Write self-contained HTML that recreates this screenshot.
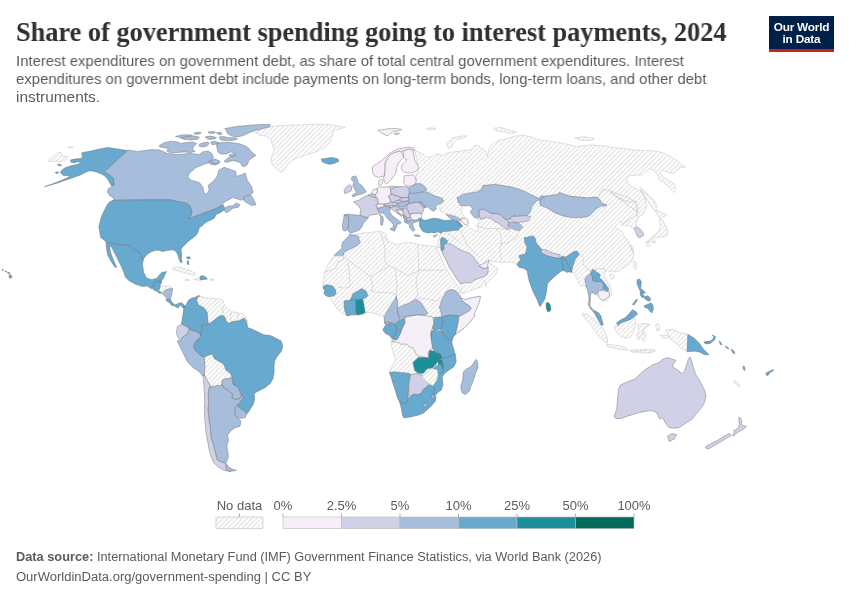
<!DOCTYPE html>
<html><head><meta charset="utf-8">
<style>
html,body{margin:0;padding:0;background:#fff;}
body{width:850px;height:600px;position:relative;overflow:hidden;font-family:"Liberation Sans",sans-serif;}
.t{position:absolute;white-space:nowrap;will-change:transform;}
#title{left:16px;top:16.5px;font-family:"Liberation Serif",serif;font-weight:bold;font-size:27px;color:#303030;transform-origin:0 0;transform:scaleX(0.975);}
.sub{left:16px;font-size:15px;color:#5b5b5b;transform-origin:0 0;}
#logo{position:absolute;left:769px;top:16px;width:65px;height:33px;background:#002147;border-bottom:3px solid #c8231d;color:#fff;font-weight:bold;font-size:11.8px;line-height:12px;text-align:center;}
#logo div{padding-top:5px;letter-spacing:-0.2px}
#logo{will-change:transform}
.lg{font-size:12.5px;color:#5b5b5b;}
.ft{left:16px;font-size:12.5px;color:#5b5b5b;transform-origin:0 0;}
svg{position:absolute;left:0;top:0;will-change:transform;}
#map path{stroke:#6e6e6e;stroke-width:0.45;stroke-linejoin:round}
#map .nd{fill:url(#hatch);stroke:#c6c6c6;stroke-width:0.55}
#map .bd{fill:none;stroke:#cacaca;stroke-width:0.65}
.c1{fill:#f6eff7}.c2{fill:#d0d1e6}.c3{fill:#a6bddb}.c4{fill:#67a9cf}.c5{fill:#1c9099}.c6{fill:#016c59}
</style></head><body>
<div class="t" id="title">Share of government spending going to interest payments, 2024</div>
<div class="t sub" style="top:52px;transform:scaleX(0.9914)">Interest expenditures on government debt, as share of total central government expenditures. Interest</div>
<div class="t sub" style="top:70px;transform:scaleX(0.9939)">expenditures on government debt include payments on long-term bonds, long-term loans, and other debt</div>
<div class="t sub" style="top:88px;transform:scaleX(1.029)">instruments.</div>
<div id="logo"><div>Our World<br>in Data</div></div>

<svg width="850" height="600" viewBox="0 0 850 600">
<defs>
<pattern id="hatch" patternUnits="userSpaceOnUse" width="3.4" height="3.4" patternTransform="rotate(45)"><rect width="3.4" height="3.4" fill="#fff"/><rect x="0" y="0" width="1.25" height="3.4" fill="#e4e4e4"/></pattern>
</defs>
<!--MAP-->
<g id="map">
<path class="nd" d="M67.8,147.4 70.4,146.6 73.1,147.2 70.4,148.0Z"/>
<path class="nd" d="M47.6,161.2 56.5,153.2 60.9,152.4 62.6,155.9 67.9,156.8 67.1,159.4 60.0,162.1 52.9,161.2Z"/>
<path class="nd" d="M159.9,287.4 161.8,286.0 166.1,286.0 170.8,286.5 172.6,288.4 170.8,288.8 167.0,289.3 164.2,291.2 162.3,293.1 159.9,291.6 159.0,289.8Z"/>
<path class="nd" d="M172.1,268.2 178.2,267.0 185.3,268.8 190.6,270.9 195.9,273.5 194.1,275.3 188.8,274.1 183.5,272.6 178.2,270.9 173.8,270.0Z"/>
<path class="nd" d="M193.8,279.4 197.1,278.9 199.9,278.7 200.4,281.1 199.0,280.4 196.2,279.9Z"/>
<path class="nd" d="M184.9,279.4 187.2,279.1 189.6,280.2 187.7,280.8 185.4,280.4Z"/>
<path class="nd" d="M210.3,279.1 213.6,279.1 214.1,280.2 210.8,280.4Z"/>
<path class="nd" d="M196.5,300.3 198.2,295.9 205.3,297.6 212.4,298.5 219.4,298.9 222.9,300.3 224.7,305.6 228.2,309.1 231.8,311.8 237.1,312.6 242.4,313.5 245.9,317.1 247.6,320.6 247.6,327.6 245.9,320.6 244.1,317.9 239.7,320.6 233.5,321.5 228.2,323.2 226.5,321.5 224.7,317.1 222.9,315.3 219.4,316.2 215.9,318.8 212.4,321.5 208.5,324.1 207.9,321.5 207.1,312.6 204.4,308.2 198.2,304.7Z"/>
<path class="nd" d="M204.4,356.8 208.8,355.0 212.4,354.1 213.0,355.0 214.1,358.2 218.4,361.0 223.3,363.7 224.9,366.9 226.0,370.2 229.2,372.3 231.4,375.0 232.0,377.8 229.2,378.3 224.9,378.8 222.2,380.5 221.7,384.2 220.6,385.9 217.9,385.3 214.1,386.4 210.8,387.0 204.3,374.5 204.9,365.8 204.3,357.2 204.9,355.0Z"/>
<path class="nd" d="M255.0,132.6 262.9,128.2 275.3,125.9 289.4,125.2 303.5,124.7 317.6,124.2 331.8,124.7 345.0,127.4 338.8,129.1 333.5,130.9 331.8,137.9 328.2,144.1 322.9,148.5 315.9,152.1 307.1,154.7 298.2,157.4 292.9,160.0 287.6,164.4 284.1,169.7 281.5,172.4 277.9,170.6 273.5,166.2 270.9,160.9 271.8,155.6 274.4,150.3 272.6,145.0 270.9,139.7 266.5,136.2 259.4,135.3Z"/>
<path class="nd" d="M351.2,236.5 355.6,234.7 364.4,232.9 373.2,232.1 380.3,231.2 385.6,233.8 387.4,239.1 390.9,242.6 397.9,244.4 405.0,242.6 411.2,242.6 417.4,244.4 424.4,245.3 431.5,246.2 438.5,247.1 441.2,247.6 436.0,248.0 439.0,253.0 442.0,260.0 446.0,268.0 449.0,273.0 452.0,278.0 455.0,282.0 458.0,286.0 460.0,290.0 460.5,294.0 461.1,295.8 460.1,297.2 462.0,299.5 465.8,299.5 472.4,297.6 480.4,296.2 479.9,299.5 478.5,304.2 476.6,308.9 474.2,313.6 474.7,315.9 469.4,322.9 464.1,328.2 458.8,331.8 455.3,334.4 452.6,337.9 451.8,342.4 452.6,345.9 455.3,354.7 456.2,361.8 453.5,367.1 448.2,370.6 443.8,374.1 442.1,377.6 442.9,384.7 441.2,390.0 437.6,392.6 436.5,394.1 435.9,397.1 435.3,401.2 431.8,405.3 428.2,408.8 423.5,412.9 417.6,415.3 411.8,416.5 407.1,417.6 403.5,417.6 402.4,414.7 401.8,410.0 400.6,405.3 399.4,401.2 397.6,398.2 395.3,390.0 392.9,382.9 391.2,377.1 389.4,372.4 391.8,367.1 395.3,360.0 393.5,352.9 391.8,347.6 390.9,342.4 391.8,340.6 389.1,335.3 385.6,333.5 382.9,330.0 384.7,326.5 385.6,325.1 384.7,320.3 383.8,316.8 378.5,315.0 371.5,312.4 364.4,313.2 357.4,315.0 350.3,315.9 343.2,314.1 337.9,309.7 334.4,304.4 330.9,299.1 327.4,295.6 324.7,291.2 322.9,285.0 323.8,277.9 324.7,271.8 327.4,265.6 330.9,260.3 334.4,255.0 341.5,251.5 343.2,244.4 346.8,240.9Z"/>
<path class="nd" d="M440.9,233.2 439.1,237.6 438.2,242.9 437.4,245.1 440.9,248.2 443.5,255.3 447.1,260.6 450.6,267.6 454.1,274.7 457.6,280.0 460.1,283.5 461.1,286.4 461.5,291.1 462.5,293.9 465.8,292.5 471.4,290.1 477.1,288.2 482.7,286.4 486.5,283.5 488.4,281.2 492.1,277.9 495.9,274.1 497.8,269.4 496.7,267.9 492.9,265.1 490.1,263.2 489.2,262.3 488.7,259.9 491.1,261.4 497.6,261.8 504.2,262.3 510.8,262.3 514.6,263.2 517.4,265.1 537.6,272.5 551.8,269.7 561.7,265.4 570.6,269.5 572.5,272.3 575.4,276.1 578.2,280.8 579.1,284.5 581.0,286.4 583.8,285.5 586.6,287.4 588.5,290.2 589.5,293.9 589.9,300.0 589.1,301.2 588.9,305.5 591.2,308.2 594.0,310.9 595.0,314.2 596.7,317.4 598.8,320.7 601.0,325.0 603.2,325.0 602.1,320.7 601.0,316.3 598.8,313.1 596.1,311.5 592.3,308.8 590.7,305.5 590.2,301.2 590.2,295.8 591.2,292.5 595.6,294.7 597.8,295.2 599.4,297.9 602.1,300.1 605.7,301.3 607.0,300.3 609.0,298.7 610.7,296.7 611.7,294.0 611.7,291.3 611.0,288.7 610.0,286.0 608.7,283.3 607.0,280.7 605.0,278.0 603.7,275.3 604.3,273.7 605.7,272.0 605.0,270.3 603.0,268.3 606.7,270.7 610.0,271.3 613.3,272.0 616.7,271.3 620.0,270.7 621.5,268.5 626.2,266.6 630.9,262.9 632.8,259.1 633.7,254.4 632.8,250.6 630.9,246.9 629.9,245.0 632.6,252.9 633.7,252.0 633.0,248.7 631.0,244.7 628.3,240.7 625.0,237.3 623.0,234.7 622.3,232.0 618.3,229.3 615.0,226.3 618.3,223.3 620.3,221.3 621.7,224.7 625.0,226.0 628.3,225.0 630.3,226.3 633.0,228.0 634.3,228.7 636.3,227.2 636.7,224.7 636.3,222.0 637.7,219.3 639.7,216.0 641.0,213.3 641.7,212.0 636.4,204.1 633.5,201.8 628.8,202.2 624.1,200.4 619.4,198.0 614.7,194.7 610.0,191.9 637.9,212.1 635.3,201.5 628.2,197.9 619.4,194.4 610.6,190.9 603.5,189.1 600.0,192.6 598.2,197.9 587.6,197.9 578.8,197.1 570.0,196.2 564.7,194.4 559.4,192.6 557.6,194.4 545.3,196.2 540.0,199.7 544.7,197.9 520.0,206.3 496.5,210.1 477.6,218.1 478.6,221.4 477.6,226.1 478.6,230.8 475.8,231.2 471.1,228.9 468.2,226.1 468.2,223.2 467.3,221.4 464.5,219.9 461.6,219.7 458.8,221.4 454.1,226.1 449.7,225.3 441.8,227.1Z"/>
<path class="nd" d="M414.1,150.3 421.2,152.9 428.2,157.4 433.5,155.6 437.9,153.8 442.4,155.6 447.6,152.9 452.9,152.1 460.0,151.2 465.3,150.3 472.4,149.4 474.1,145.9 477.6,145.0 481.2,147.6 484.7,150.3 487.4,156.5 488.2,152.1 490.0,146.8 493.5,143.2 498.8,140.6 505.9,138.8 514.7,136.2 523.5,135.3 532.4,137.1 537.6,139.7 544.7,140.6 557.6,142.4 566.5,144.1 577.1,146.8 585.9,145.4 592.9,145.0 603.5,145.9 614.1,147.6 624.7,148.5 635.3,150.3 645.9,150.3 656.5,151.2 663.5,152.9 670.6,156.5 677.6,160.9 681.2,164.4 685.6,167.1 679.4,167.9 675.9,171.5 674.1,173.2 670.6,173.2 665.3,171.5 661.8,169.7 660.0,173.2 663.5,176.8 668.8,180.3 674.1,183.8 675.9,189.1 674.1,192.6 670.6,189.1 667.1,185.6 663.5,182.1 660.0,180.3 656.5,173.2 652.9,169.7 649.4,168.8 645.9,171.5 642.4,175.0 637.1,175.0 628.2,175.9 626.5,180.3 630.0,185.6 637.1,189.1 642.4,192.6 645.9,197.9 649.4,203.2 652.9,208.5 656.5,212.1 640.1,190.0 642.0,192.8 644.8,197.5 646.2,202.2 646.7,206.9 644.8,210.7 642.9,214.5 639.2,216.4 637.8,217.3 636.8,214.5 637.3,210.7 636.4,207.9 636.4,204.1 635.9,201.3 633.5,201.8 628.8,202.2 624.1,200.4 619.4,198.0 614.7,194.7 610.0,191.9 637.9,212.1 637.1,206.8 635.3,201.5 628.2,197.9 619.4,194.4 610.6,190.9 603.5,189.1 600.0,192.6 598.2,197.9 596.5,197.1 587.6,197.9 578.8,197.1 570.0,196.2 564.7,194.4 559.4,192.6 557.6,194.4 545.3,196.2 540.0,199.7 544.7,196.2 541.2,195.3 539.4,197.9 534.1,196.2 527.1,192.6 520.0,189.1 512.9,187.4 509.4,186.5 502.4,185.6 497.1,183.8 491.8,184.7 482.9,185.6 481.2,189.1 475.9,190.9 470.6,192.6 463.5,193.5 458.2,196.2 457.4,196.9 457.9,201.6 460.7,205.4 462.6,208.2 461.6,211.9 463.1,214.8 464.5,216.6 463.5,218.1 461.6,218.5 458.8,217.1 455.1,215.7 450.4,214.3 446.6,214.3 443.8,212.7 440.9,211.2 440.0,210.5 439.7,206.4 443.8,201.5 442.4,197.9 435.3,196.2 430.9,192.6 426.5,190.9 425.6,187.4 421.2,183.8 415.9,183.8 416.8,180.3 415.9,176.8 417.6,171.5 417.6,164.4 415.9,155.6Z"/>
<path class="nd" d="M639.8,187.2 641.9,188.3 646.3,192.6 651.7,198.0 654.9,201.3 657.1,206.7 656.0,207.8 653.3,202.3 650.0,198.0 646.3,194.8 641.9,190.4Z"/>
<path class="nd" d="M446.8,143.2 452.9,137.9 460.0,136.2 467.1,135.8 463.5,137.9 456.5,139.7 452.9,143.2 451.2,147.6 448.5,148.5Z"/>
<path class="nd" d="M493.5,128.2 500.6,127.4 509.4,130.0 516.5,131.8 512.9,133.5 504.1,131.8 496.2,130.9Z"/>
<path class="nd" d="M656.0,209.4 658.7,211.0 662.5,213.2 665.8,213.7 666.8,214.8 663.6,217.0 660.3,217.5 658.2,216.4 656.5,213.2Z"/>
<path class="nd" d="M659.3,218.6 662.5,219.7 664.7,224.0 666.8,228.3 667.9,232.7 666.8,235.9 662.5,237.0 658.2,237.0 653.8,238.6 650.6,240.3 647.3,242.4 648.4,240.3 651.7,237.0 654.9,234.8 658.2,231.6 660.3,227.3 659.8,222.9Z"/>
<path class="nd" d="M646.3,241.3 649.0,241.9 650.0,245.7 647.9,246.8 646.3,244.6Z"/>
<path class="nd" d="M651.7,241.3 654.9,240.8 656.0,242.4 652.8,243.0Z"/>
<path class="nd" d="M633.7,261.9 635.6,261.5 637.0,265.7 635.6,269.5 634.2,268.5 633.5,265.2Z"/>
<path class="nd" d="M609.7,275.1 613.0,274.2 614.4,277.0 612.1,279.4 610.2,278.4Z"/>
<path class="nd" d="M614.7,325.6 618.2,325.6 620.9,322.9 625.3,321.2 630.6,319.4 634.1,316.8 635.9,320.3 635.0,327.4 633.2,332.6 630.6,337.1 625.3,337.9 620.0,336.2 616.5,332.6 614.7,329.1Z"/>
<path class="nd" d="M582.1,313.2 588.2,315.0 595.3,320.3 602.4,327.4 606.8,336.2 607.6,343.2 604.1,341.5 598.8,336.2 593.5,329.1 588.2,322.1 583.8,316.8Z"/>
<path class="nd" d="M606.8,344.1 612.9,345.0 620.0,345.9 627.1,348.5 627.9,350.3 620.0,349.4 612.9,347.6 607.6,346.8Z"/>
<path class="nd" d="M639.4,324.7 644.7,323.8 650.0,324.7 644.7,327.4 642.9,330.9 646.5,334.4 643.8,337.9 641.2,334.4 639.4,329.1Z"/>
<path class="nd" d="M665.9,330.0 672.9,329.1 680.0,332.6 687.9,334.4 687.1,351.2 681.8,349.4 678.2,345.0 672.9,341.5 669.4,337.9 667.6,333.5Z"/>
<path class="nd" d="M630.6,350.3 637.6,349.9 644.7,349.4 651.8,350.3 655.3,349.9 651.8,352.9 644.7,352.4 637.6,352.1 631.5,352.1Z"/>
<path class="nd" d="M637.5,325.0 642.0,323.5 649.5,324.4 645.0,328.0 642.0,332.5 646.5,338.5 643.5,341.5 640.5,335.5 638.4,340.0 636.6,335.5 639.0,329.5Z"/>
<path class="nd" d="M630.0,350.5 634.5,349.6 639.0,350.8 634.5,352.0Z"/>
<path class="nd" d="M640.5,351.4 646.5,349.9 652.5,349.6 655.5,350.8 648.0,352.6 642.0,353.2Z"/>
<path class="nd" d="M655.5,325.0 658.5,323.5 660.0,329.5 657.0,331.0Z"/>
<path class="nd" d="M660.0,335.5 666.0,334.9 670.5,337.0 664.5,338.5Z"/>
<path class="nd" d="M426.5,128.2 431.2,127.8 435.9,128.4 434.9,129.5 430.2,129.7 426.9,129.1Z"/>
<path class="nd" d="M734.1,380.6 736.8,382.0 740.3,386.2 738.2,386.2 734.5,382.7Z"/>
<path class="nd" d="M574.8,137.8 584.7,136.8 594.6,138.4 591.3,140.4 581.4,140.4Z"/>
<path class="c4" d="M82.9,152.4 90.9,151.1 100.6,148.8 107.6,147.4 112.9,148.3 127.9,150.6 104.1,172.3 109.4,174.4 113.3,177.9 114.4,185.0 112.1,186.4 110.3,184.1 108.5,180.6 105.9,177.1 102.4,174.4 97.1,172.3 93.5,171.2 90.0,170.7 84.7,172.8 80.5,174.9 76.2,176.5 72.0,178.1 66.7,179.7 59.3,182.4 50.8,185.0 44.5,186.6 50.8,184.5 59.3,181.3 65.6,178.6 69.9,176.5 67.8,175.5 63.5,175.5 61.4,173.9 60.4,171.8 62.5,169.6 65.6,167.5 72.0,165.4 77.3,164.4 80.5,162.8 78.4,161.7 74.1,162.8 70.9,162.2 70.4,160.1 74.1,159.1 80.5,158.5 82.6,156.9 81.5,153.2Z"/>
<path class="c4" d="M57.2,164.4 59.8,164.1 61.6,165.4 59.3,165.9Z"/>
<path class="c4" d="M55.1,172.3 57.7,171.8 58.8,173.0 56.1,173.5Z"/>
<path class="c3" d="M127.9,150.0 137.6,151.4 151.8,149.6 159.7,150.0 167.6,153.5 178.2,154.4 190.6,153.5 199.4,154.4 202.9,151.8 208.2,150.9 211.8,153.5 213.5,157.9 210.0,162.4 204.7,164.1 195.9,167.6 189.7,172.9 187.9,176.5 190.6,180.0 199.4,182.6 202.9,187.1 203.8,192.4 206.5,194.1 209.1,190.6 208.2,185.3 213.5,180.9 217.1,176.5 218.8,170.3 224.1,167.3 230.3,169.4 235.6,171.2 236.5,176.5 241.8,174.7 245.3,172.9 247.1,180.0 251.5,186.2 253.2,192.4 247.1,197.6 241.8,200.3 232.9,197.6 225.9,201.2 221.5,204.7 220.6,205.6 217.1,208.2 210.0,210.9 202.9,213.5 195.9,216.2 188.8,218.8 190.6,216.2 192.0,211.8 189.7,205.6 185.3,202.9 178.2,201.7 171.2,199.9 142.9,199.9 112.9,200.3 114.7,200.0 112.9,197.7 109.4,195.2 107.3,192.1 108.5,188.5 112.1,186.4 114.4,185.0 113.3,177.9 109.4,174.4 104.1,172.3Z"/>
<path class="c3" d="M223.2,209.1 227.6,206.5 232.9,205.6 236.5,202.9 240.0,204.7 238.2,207.4 232.9,208.2 228.5,211.8 225.9,212.6Z"/>
<path class="c3" d="M243.5,197.6 248.8,195.0 251.5,195.9 254.1,200.3 255.9,204.7 251.5,205.6 247.1,202.9 244.4,201.2Z"/>
<path class="c3" d="M208.2,161.5 215.3,159.7 218.8,163.2 215.3,165.0 210.0,164.1Z"/>
<path class="c4" d="M112.9,200.3 142.9,199.9 171.2,199.9 178.2,201.7 185.3,202.9 189.7,205.6 192.0,211.8 190.6,216.2 188.8,218.8 195.9,216.2 202.9,213.5 210.0,210.9 217.1,208.2 220.6,205.6 223.2,204.7 224.5,207.4 224.1,210.0 220.6,212.6 216.2,214.4 214.4,217.9 211.8,219.7 207.4,221.5 204.7,223.2 202.1,225.9 199.4,227.6 198.5,230.3 197.6,232.9 195.9,235.6 192.4,238.2 188.8,240.9 185.3,244.4 182.6,247.1 180.9,249.7 181.8,254.1 181.4,258.5 182.1,262.1 180.9,262.9 179.1,259.4 177.9,255.0 176.1,251.5 172.9,249.7 167.6,250.6 162.4,251.5 158.8,250.2 154.4,250.6 150.0,252.4 146.5,255.0 143.8,258.5 142.9,261.2 141.2,256.8 138.5,253.2 136.8,251.5 134.1,249.7 131.5,246.5 125.3,244.8 116.5,244.4 106.2,242.3 104.1,240.0 100.6,237.4 99.7,232.1 98.8,226.8 100.2,221.5 101.5,216.2 104.1,210.9 106.8,205.6 109.4,202.1Z"/>
<path class="c4" d="M106.2,242.3 116.5,244.4 125.3,244.8 131.5,246.5 134.1,249.7 138.5,251.5 141.2,255.9 142.9,260.6 142.6,265.6 143.8,272.6 146.5,277.9 151.8,279.7 157.1,277.9 159.7,274.4 162.4,272.1 166.8,271.8 166.1,271.4 165.1,274.7 163.2,278.5 161.8,280.4 161.4,280.4 159.9,281.1 158.1,281.3 155.2,282.2 153.8,284.6 152.4,287.9 151.5,288.8 147.2,286.0 142.5,286.5 135.0,284.1 128.8,280.6 125.3,277.1 123.9,272.6 121.8,267.4 119.1,262.1 116.5,256.8 113.8,251.5 112.1,247.9 110.8,246.2 109.8,246.5 110.3,251.5 112.1,256.8 114.7,262.9 116.8,267.4 114.7,267.0 112.1,262.9 109.4,258.5 107.6,255.0 106.8,249.7 106.2,246.2Z"/>
<path class="c4" d="M152.4,287.9 153.8,284.6 155.2,282.2 158.1,281.3 159.9,281.1 160.4,284.1 159.9,287.4 159.0,289.8 158.1,291.2 155.2,290.7 153.4,289.8Z"/>
<path class="c4" d="M159.9,281.1 161.4,280.4 161.8,281.8 160.9,284.1 160.4,284.1Z"/>
<path class="c4" d="M157.1,291.2 159.9,291.6 161.8,293.1 160.4,293.5 158.1,292.6Z"/>
<path class="c3" d="M162.3,293.5 164.2,291.2 167.0,289.3 170.8,288.8 172.6,288.4 172.2,292.6 171.2,296.4 170.3,299.2 167.5,299.2 165.1,296.4Z"/>
<path class="c4" d="M166.1,299.2 170.3,299.2 172.2,302.5 173.6,304.8 172.6,306.2 170.8,304.4 168.4,302.0 166.5,301.1Z"/>
<path class="c4" d="M172.6,303.4 175.5,304.8 179.2,302.9 182.1,302.9 184.9,305.8 183.9,308.1 182.5,307.6 181.1,305.3 179.2,305.8 178.3,308.1 176.4,307.2 174.1,305.8Z"/>
<path class="c4" d="M199.9,276.6 202.8,275.6 205.6,277.1 207.5,278.9 204.6,279.4 200.9,279.9 199.9,278.9Z"/>
<path class="c4" d="M186.2,257.1 189.7,256.8 190.6,258.5 187.9,258.9Z"/>
<path class="c4" d="M187.1,261.2 188.5,260.6 188.8,264.7 187.4,264.2Z"/>
<path class="c4" d="M183.9,308.1 185.8,305.3 188.6,300.1 191.5,298.2 195.2,297.3 199.0,295.4 199.9,296.4 198.2,295.9 196.5,300.3 198.2,304.7 204.4,308.2 207.1,312.6 207.9,321.5 208.5,324.1 205.3,325.0 202.6,324.1 201.8,328.5 200.9,336.5 199.1,332.9 194.7,331.2 189.4,329.4 186.8,326.8 181.5,324.1 182.4,317.9 183.2,312.6 184.1,305.9Z"/>
<path class="c2" d="M177.1,326.8 181.5,324.1 186.8,326.8 189.4,329.9 186.8,334.7 182.4,337.4 180.6,340.0 177.9,337.4 176.2,332.9 177.1,329.4Z"/>
<path class="c3" d="M180.6,340.0 182.4,337.4 186.8,334.7 189.4,329.9 194.7,331.2 199.1,332.9 200.9,336.5 198.2,339.1 195.6,341.8 193.8,346.2 194.7,349.7 198.2,353.2 200.9,355.9 204.4,356.8 204.9,355.0 204.3,357.2 204.9,365.8 204.3,374.5 203.2,376.1 198.2,370.9 192.9,367.4 187.6,362.1 184.1,355.0 180.6,347.9 177.1,340.9Z"/>
<path class="c4" d="M208.5,324.1 212.4,321.5 215.9,318.8 219.4,316.2 222.9,315.3 224.7,317.1 226.5,321.5 228.2,323.2 233.5,321.5 239.7,320.6 244.1,317.9 245.9,320.6 247.6,327.6 252.9,329.4 258.2,332.1 263.5,334.7 270.6,335.6 275.9,338.2 281.2,340.9 282.9,346.2 281.2,351.5 277.6,355.9 275.0,360.3 274.1,365.6 274.1,372.6 273.2,377.9 270.6,383.2 265.3,387.6 260.0,390.3 254.7,392.9 254.2,395.1 254.7,398.3 253.6,403.8 250.9,408.1 248.2,412.4 246.6,414.0 244.4,411.3 240.6,408.6 236.8,405.4 239.5,402.7 242.2,399.4 243.3,397.2 241.2,395.1 240.6,392.9 239.5,390.8 238.5,388.6 237.4,386.4 235.2,385.9 233.0,384.2 232.5,381.0 232.0,377.8 231.4,375.0 229.2,372.3 226.0,370.2 224.9,366.9 223.3,363.7 218.4,361.0 214.1,358.2 213.0,355.0 212.4,354.1 208.8,355.0 204.4,356.8 200.9,355.9 198.2,353.2 194.7,349.7 193.8,346.2 195.6,341.8 198.2,339.1 200.9,336.5 201.8,328.5 202.6,324.1 205.3,325.0Z"/>
<path class="c3" d="M222.2,380.5 224.9,378.8 229.2,378.3 232.0,377.8 232.5,381.0 233.0,384.2 235.2,385.9 237.4,386.4 238.5,388.6 239.5,390.8 240.6,392.9 240.9,396.2 240.1,398.3 237.9,399.2 234.7,399.4 232.5,398.3 232.0,396.2 232.5,394.0 230.3,392.4 227.1,389.7 222.8,387.0 221.7,384.2Z"/>
<path class="c3" d="M236.8,405.4 240.6,408.6 244.4,411.3 246.6,414.0 245.5,417.3 241.2,418.4 237.4,417.8 235.2,415.1 234.7,411.3 235.2,407.0Z"/>
<path class="c3" d="M210.8,387.0 214.1,386.4 217.9,385.3 220.6,385.9 221.7,384.2 222.8,387.0 227.1,389.7 230.3,392.4 232.5,394.0 232.0,396.2 232.5,398.3 234.7,399.4 237.9,399.2 240.1,398.3 241.2,395.1 243.3,397.2 242.2,399.4 239.5,402.7 236.8,405.4 235.2,407.0 234.7,411.3 235.2,415.1 237.4,417.8 240.9,420.9 240.0,426.2 234.7,427.9 231.2,430.6 227.6,435.0 228.5,440.3 226.8,445.6 227.6,450.9 228.5,456.2 226.8,461.5 225.5,463.2 222.4,462.4 217.1,459.7 215.3,452.6 213.5,445.6 210.9,436.8 210.4,427.9 209.1,420.9 207.9,410.3 208.6,401.5 208.2,392.6 209.1,387.4Z"/>
<path class="c3" d="M226.2,463.6 228.5,466.8 232.9,469.4 236.5,470.3 232.1,471.2 226.8,469.4Z"/>
<path class="c2" d="M203.2,376.1 204.3,374.5 210.8,387.0 209.1,387.4 208.2,392.6 208.6,401.5 207.9,410.3 209.1,420.9 210.4,427.9 210.9,436.8 213.5,445.6 215.3,452.6 217.1,459.7 222.4,462.4 225.5,463.2 226.2,470.3 231.2,471.7 224.1,470.3 217.9,466.8 213.5,462.4 210.9,456.5 209.1,449.5 207.9,442.4 206.5,435.4 205.6,427.9 204.7,419.1 204.4,410.3 204.7,401.5 204.4,392.6 203.8,383.8 202.9,375.0Z"/>
<path class="c3" d="M159.2,145.5 164.1,142.7 171.2,141.3 178.2,142.0 180.4,143.4 185.3,142.7 192.4,142.0 196.6,143.4 193.8,146.2 192.4,149.8 195.2,151.2 190.9,152.6 183.9,151.9 178.2,152.6 169.8,152.6 166.9,151.2 168.4,148.4 164.1,147.6 159.9,146.9Z"/>
<path class="c3" d="M175.4,136.4 182.5,134.9 189.5,134.7 192.4,135.6 188.1,137.1 181.1,137.8Z"/>
<path class="c3" d="M181.1,138.0 186.7,136.6 193.8,135.9 199.4,137.1 198.0,139.2 190.9,139.9 183.9,139.5Z"/>
<path class="c3" d="M193.8,133.2 198.0,132.1 201.5,132.8 198.7,134.2 195.2,134.2Z"/>
<path class="c3" d="M207.9,132.1 212.1,131.4 215.6,132.1 214.2,133.5 209.3,133.2Z"/>
<path class="c3" d="M216.4,132.8 220.6,132.1 222.0,134.2 219.2,134.9Z"/>
<path class="c3" d="M205.1,137.1 209.3,136.1 213.5,136.6 216.4,137.8 213.5,139.2 207.9,139.2Z"/>
<path class="c3" d="M219.2,137.1 223.4,136.4 229.1,137.8 234.7,137.8 237.5,139.2 231.9,140.6 224.8,140.6 220.6,139.9Z"/>
<path class="c3" d="M224.8,128.6 230.5,127.6 236.1,126.5 243.2,125.8 251.6,125.1 261.5,124.4 270.0,124.4 270.0,126.5 262.9,128.6 254.5,130.7 248.8,132.8 243.2,135.6 237.5,137.1 231.9,136.1 227.6,133.5 226.2,130.7Z"/>
<path class="c3" d="M199.4,144.1 203.6,142.7 207.9,142.0 209.3,143.4 206.5,146.2 202.2,146.9 199.4,146.2Z"/>
<path class="c3" d="M210.7,142.0 214.9,141.3 219.2,142.7 216.4,144.1 212.1,144.8Z"/>
<path class="c3" d="M216.4,144.1 220.6,142.7 227.6,142.3 234.7,143.1 240.4,144.1 246.0,146.2 248.8,148.4 250.9,151.2 255.9,155.4 251.6,158.2 248.8,160.4 247.4,164.6 244.6,166.7 241.8,166.0 240.4,162.5 237.5,161.8 233.3,160.4 226.2,162.5 224.1,161.1 227.6,158.2 231.9,156.1 234.7,153.3 230.5,151.9 226.2,154.0 220.6,154.0 217.8,151.9 217.1,148.4Z"/>
<path class="c3" d="M229.1,154.7 233.3,154.0 236.1,155.4 233.3,156.8 229.8,156.4Z"/>
<path class="c3" d="M210.7,160.4 215.6,159.2 219.9,161.1 219.2,163.2 214.9,163.9 212.1,162.9Z"/>
<path class="c2" d="M378.0,190.0 392.0,186.0 408.0,188.0 412.0,200.0 418.0,206.0 416.0,211.0 411.0,214.0 406.0,216.0 398.0,214.0 391.0,206.0 383.0,205.0 378.0,200.0Z"/>
<path class="c4" d="M321.2,159.1 326.5,158.2 331.8,157.4 337.9,158.8 338.8,161.2 335.3,163.0 330.0,164.4 324.7,163.0 322.1,161.8Z"/>
<path class="c3" d="M352.1,176.8 355.6,175.9 357.4,179.4 358.2,182.9 361.8,185.6 364.4,189.1 366.2,191.8 363.5,193.5 358.2,194.8 352.9,197.1 352.1,195.3 356.5,192.6 354.7,189.1 352.9,185.6 353.8,182.1 351.2,179.4Z"/>
<path class="c2" d="M344.1,190.9 345.9,187.4 349.4,184.7 352.1,186.5 351.2,190.9 347.6,192.6 344.5,193.5Z"/>
<path class="c1" d="M372.4,169.6 372.4,166.8 376.6,163.9 380.8,161.1 385.1,157.6 388.6,154.1 392.8,151.2 397.8,149.1 403.4,148.0 409.1,147.1 414.0,148.0 414.7,150.5 411.9,149.8 409.1,149.1 406.2,149.8 403.4,151.2 399.2,151.2 394.9,152.6 390.7,154.1 387.9,157.6 385.1,163.2 385.1,170.3 384.4,175.9 381.5,176.6 378.0,177.4 374.5,175.9 372.8,173.1Z"/>
<path class="c1" d="M384.4,175.9 385.1,170.3 385.1,163.2 387.9,157.6 390.7,154.1 394.9,152.6 399.2,151.2 402.7,153.4 403.4,157.6 400.6,160.4 397.8,163.9 396.4,168.9 395.6,173.8 392.8,177.4 390.7,180.2 387.9,183.0 385.8,183.7 384.4,182.3 383.6,177.4Z"/>
<path class="c1" d="M403.4,151.2 406.2,149.8 409.1,149.1 411.9,149.8 413.3,152.6 414.0,156.2 414.7,160.4 417.5,164.6 418.9,168.2 416.1,171.4 411.9,172.6 407.6,173.1 403.4,171.7 401.3,168.9 402.0,164.9 404.8,162.1 406.9,159.7 403.7,157.6Z"/>
<path class="c1" d="M378.8,181.2 381.2,178.8 382.9,180.0 382.4,183.5 380.6,185.3 378.8,184.7Z"/>
<path class="c1" d="M404.1,175.9 409.4,175.3 413.5,174.7 415.3,177.6 416.2,181.2 414.4,184.7 410.6,186.1 406.1,185.9 403.5,182.6 404.1,179.1Z"/>
<path class="c2" d="M353.5,201.8 358.8,200.2 361.2,198.6 365.3,196.5 368.2,195.1 371.8,196.5 375.3,197.6 377.6,198.8 378.2,201.8 377.1,204.1 375.9,205.3 377.1,207.6 377.6,209.4 378.8,211.2 379.4,212.9 377.6,214.1 374.1,214.7 369.4,215.3 368.2,217.6 364.7,217.1 360.6,215.3 360.0,214.1 360.6,209.4 358.8,205.9 355.3,203.5Z"/>
<path class="c3" d="M344.1,214.7 348.2,214.1 352.9,214.7 360.0,215.3 364.7,217.1 368.2,217.6 367.1,219.4 363.5,222.9 361.8,227.1 360.0,229.4 355.3,231.8 350.6,232.9 348.8,231.8 347.6,229.4 348.2,225.9 348.8,218.8 344.7,218.6Z"/>
<path class="c3" d="M344.1,215.3 348.2,215.9 348.8,218.8 348.2,225.9 347.6,229.4 345.3,231.2 342.9,230.0 342.4,224.7 343.5,220.0Z"/>
<path class="c2" d="M368.2,195.1 371.2,193.9 374.1,194.1 375.9,195.9 375.3,197.6 371.8,196.5Z"/>
<path class="c1" d="M371.2,193.9 371.8,191.8 373.5,189.4 376.5,188.8 377.6,189.4 377.1,192.9 375.3,194.7 374.1,194.1Z"/>
<path class="c1" d="M376.5,188.8 377.6,188.2 379.4,186.5 381.2,187.1 382.4,187.1 389.4,187.1 390.6,189.4 391.2,194.1 388.2,196.5 390.0,198.8 390.6,201.8 388.2,203.5 383.5,204.1 378.8,204.1 378.2,201.8 377.6,198.8 375.9,195.9 375.3,194.7 377.1,192.9 377.6,189.4Z"/>
<path class="c1" d="M375.9,205.3 378.8,204.1 383.5,204.1 384.7,205.6 382.4,207.1 378.8,208.2 377.1,207.6Z"/>
<path class="c3" d="M377.1,208.2 378.8,208.2 382.4,207.1 384.7,205.6 385.9,205.9 389.4,207.1 390.6,208.8 389.4,211.2 391.8,215.3 396.5,218.8 401.2,222.4 400.0,224.1 397.6,223.5 396.5,227.1 395.3,228.8 392.9,227.1 393.5,224.7 390.6,221.2 387.6,218.8 385.3,215.3 383.5,213.5 381.2,212.9 378.8,211.2Z"/>
<path class="c2" d="M383.5,204.1 388.2,203.5 390.6,201.8 394.1,202.4 397.6,201.8 398.8,203.5 397.1,205.3 392.9,205.6 389.4,206.1 385.9,205.6 384.7,205.6Z"/>
<path class="c2" d="M388.2,196.5 391.2,194.1 395.3,195.3 398.8,196.5 401.2,198.2 398.8,200.2 395.3,200.9 394.1,202.4 390.6,201.8 390.0,198.8Z"/>
<path class="c2" d="M390.6,189.4 395.3,187.3 402.4,186.5 408.2,187.1 409.4,189.4 410.0,194.1 408.8,197.1 405.9,197.6 401.2,197.4 398.8,196.5 395.3,195.3 391.2,194.1Z"/>
<path class="c2" d="M398.8,200.2 401.2,198.2 405.9,197.6 408.8,197.6 408.2,200.6 404.7,201.4 401.2,201.2Z"/>
<path class="c3" d="M396.5,203.5 398.8,203.5 401.2,201.2 404.7,201.4 408.2,200.9 409.4,202.4 407.1,205.3 402.4,207.1 398.8,206.5 397.1,205.3Z"/>
<path class="c3" d="M380.6,216.5 382.4,215.9 383.5,220.0 382.4,225.3 380.6,224.7Z"/>
<path class="c3" d="M390.0,228.2 395.3,228.2 394.7,231.2 391.2,230.0Z"/>
<path class="c2" d="M379.4,214.1 380.2,213.5 380.6,215.9 379.8,215.9Z"/>
<path class="c2" d="M389.4,205.5 393.2,205.1 394.1,206.5 391.3,207.4 389.4,207.4Z"/>
<path class="c2" d="M389.4,207.4 391.3,207.4 394.1,206.5 396.9,206.9 400.2,208.4 402.6,208.8 401.6,210.2 398.8,209.8 396.5,209.8 398.8,212.6 402.6,215.4 401.6,216.4 398.8,214.5 395.1,211.6 392.2,209.8 390.8,208.4Z"/>
<path class="c1" d="M396.5,209.8 398.8,209.8 401.6,210.2 402.6,208.8 403.1,211.6 403.5,214.5 402.6,215.4 398.8,212.6Z"/>
<path class="c2" d="M402.6,208.8 403.5,208.4 406.4,207.9 408.2,210.7 409.2,213.5 410.1,214.0 410.6,217.3 408.2,218.2 406.4,217.8 405.4,215.9 403.5,214.5 403.1,211.6Z"/>
<path class="c3" d="M402.6,215.4 403.5,214.5 405.4,215.9 404.9,217.3 403.5,217.3Z"/>
<path class="c3" d="M403.5,217.3 404.9,217.3 406.4,218.2 406.8,221.1 405.9,222.9 404.5,222.0 404.0,219.2Z"/>
<path class="c2" d="M406.4,217.8 408.2,218.2 410.6,217.3 411.5,219.2 410.1,221.1 407.3,221.1 406.4,218.2Z"/>
<path class="c3" d="M405.9,222.9 406.8,221.1 410.1,221.1 411.5,219.6 414.4,220.6 417.2,219.9 417.6,221.5 414.8,222.5 412.5,223.4 412.9,225.8 414.8,229.5 413.4,231.4 411.1,229.5 409.6,227.6 409.2,224.8 407.8,223.4Z"/>
<path class="c1" d="M410.1,214.0 414.8,213.1 419.5,213.1 421.9,213.5 421.4,217.3 418.6,219.2 414.8,220.1 411.5,219.4 410.6,217.3Z"/>
<path class="c2" d="M406.4,207.9 408.2,204.1 411.1,203.2 415.8,202.2 418.6,202.2 421.4,205.1 424.2,207.4 423.3,211.2 421.9,213.5 419.5,213.1 414.8,213.1 410.1,214.0 409.2,213.5 408.2,210.7Z"/>
<path class="c3" d="M418.6,202.2 421.4,202.0 424.2,205.1 425.2,207.4 424.2,207.9 421.4,205.1Z"/>
<path class="c3" d="M414.4,234.7 419.5,235.2 420.0,236.6 414.8,236.1Z"/>
<path class="c3" d="M408.2,193.8 412.0,191.9 417.6,191.4 424.2,191.9 428.9,192.8 433.6,195.6 438.4,197.1 442.1,198.5 443.5,201.3 441.2,203.2 437.4,205.1 435.5,206.5 436.5,208.8 433.6,211.2 430.8,209.8 428.0,206.9 425.2,207.4 424.2,205.1 421.4,202.0 418.6,202.2 415.8,202.2 411.1,203.2 408.2,202.2 409.2,199.4 408.7,196.6Z"/>
<path class="c3" d="M409.7,187.4 415.9,183.8 421.2,183.8 425.6,187.4 426.5,190.9 419.4,192.6 410.6,193.5 408.8,190.9Z"/>
<path class="c3" d="M334.1,255.3 343.5,255.3 344.0,252.0 348.2,250.1 352.0,248.2 356.7,245.9 360.5,242.6 359.1,239.8 358.6,236.5 354.8,235.1 351.1,234.6 350.1,233.6 348.2,236.9 345.4,239.3 343.1,241.6 341.6,244.9 342.1,248.2 338.8,251.1 336.0,253.4Z"/>
<path class="c4" d="M322.9,286.8 325.6,285.0 329.1,285.0 332.6,285.9 335.3,289.4 336.2,292.9 334.4,295.6 330.9,296.5 327.4,296.5 324.7,294.7 323.8,292.1 325.6,291.2 323.8,289.4Z"/>
<path class="c4" d="M344.1,300.9 350.3,300.0 352.9,299.1 355.9,299.5 355.9,309.7 356.6,314.6 352.1,314.5 346.8,315.9 345.0,311.5 344.1,306.2Z"/>
<path class="c5" d="M355.9,299.5 362.6,299.1 363.5,302.6 364.4,307.9 365.3,312.4 362.6,314.1 357.4,315.0 356.6,314.6 355.9,309.7Z"/>
<path class="c4" d="M350.3,300.0 352.9,293.8 357.4,291.2 361.8,288.5 366.2,291.2 367.9,295.6 366.2,297.4 362.6,299.1 355.9,299.5 352.9,299.1Z"/>
<path class="c3" d="M384.2,316.8 389.1,307.9 392.6,302.6 395.3,299.1 396.2,295.6 397.9,302.6 397.1,307.9 397.9,313.2 399.7,318.5 397.9,325.1 397.9,322.1 390.9,322.6 386.5,322.9 384.7,323.8Z"/>
<path class="c3" d="M397.1,307.9 403.2,305.3 410.3,302.6 415.6,299.1 420.9,302.6 424.4,307.9 427.9,313.2 424.4,315.0 417.4,315.0 410.3,315.9 403.2,316.8 399.7,318.5 397.9,313.2Z"/>
<path class="c3" d="M439.4,307.1 441.3,301.4 443.2,296.7 446.0,292.0 449.8,289.6 454.5,290.1 458.2,292.9 459.2,295.8 461.1,297.6 462.0,300.5 465.8,303.3 469.5,306.1 471.4,308.0 469.5,310.8 467.6,312.7 465.8,315.0 457.9,315.9 450.0,315.0 442.1,316.8 440.4,310.8Z"/>
<path class="c1" d="M461.1,298.1 465.8,299.5 472.4,297.6 480.4,296.2 479.9,299.5 478.5,304.2 476.6,308.9 474.2,313.6 474.7,315.9 469.4,322.9 464.1,328.2 458.8,331.8 455.3,334.4 457.9,322.9 458.8,316.8 469.5,310.8 471.4,308.0 469.5,306.1 465.8,303.3 462.0,300.5Z"/>
<path class="c4" d="M382.9,330.0 384.7,326.5 386.5,324.7 390.9,322.9 395.3,323.8 397.1,329.1 395.3,335.3 391.8,337.9 389.1,335.3 385.6,333.5Z"/>
<path class="c4" d="M395.3,323.8 397.9,322.1 400.6,319.4 404.1,317.6 405.0,322.9 402.4,328.2 400.6,333.5 397.1,339.7 393.5,339.7 391.8,337.9 395.3,335.3 397.1,329.1Z"/>
<path class="c3" d="M384.7,322.1 389.1,322.1 389.1,324.7 385.6,324.7Z"/>
<path class="c1" d="M405.0,317.6 411.2,315.9 418.2,315.0 427.1,315.9 432.4,316.8 434.1,322.9 432.4,328.2 430.6,333.5 431.5,340.6 433.2,347.6 429.7,350.3 427.9,352.9 428.8,358.2 425.3,357.4 420.0,356.5 416.5,354.7 414.7,351.2 412.9,347.6 409.4,346.8 406.8,344.1 400.6,344.1 398.8,342.4 391.8,341.5 393.5,339.7 397.1,339.7 400.6,333.5 402.4,328.2 405.0,322.9Z"/>
<path class="c4" d="M434.1,317.6 442.1,316.8 442.9,322.9 441.2,329.1 434.1,330.0 432.4,328.2 434.1,322.9Z"/>
<path class="c4" d="M442.1,316.8 450.0,315.0 457.9,315.9 458.8,316.8 457.9,322.9 455.3,334.4 452.6,337.9 450.0,340.6 444.7,335.3 441.2,330.9 441.2,329.1 442.9,322.9Z"/>
<path class="c3" d="M431.5,330.9 434.1,330.4 434.5,335.3 433.2,339.7 431.5,339.7 430.9,335.3Z"/>
<path class="c4" d="M431.5,331.8 434.1,330.4 441.2,330.9 444.7,335.3 450.0,340.6 452.6,337.9 451.8,342.4 452.6,345.9 455.3,354.7 450.0,356.5 442.9,358.2 439.4,354.7 434.1,351.2 432.4,347.6 431.5,340.6Z"/>
<path class="c5" d="M412.9,362.6 418.2,357.4 425.3,357.4 428.8,358.2 428.8,353.8 429.7,350.3 434.1,351.2 439.4,354.7 438.5,360.0 435.9,364.4 432.4,367.9 427.1,368.8 423.5,373.2 418.2,373.2 414.7,370.6Z"/>
<path class="c5" d="M437.6,352.9 441.2,354.7 442.1,360.0 443.8,367.1 442.1,371.5 440.3,367.9 438.5,364.4 437.6,360.0Z"/>
<path class="c4" d="M438.5,360.0 442.1,358.2 450.0,356.5 455.3,354.7 456.2,361.8 453.5,367.1 448.2,370.6 443.8,374.1 442.1,377.6 442.9,384.7 441.2,390.0 437.6,392.6 436.5,394.1 434.7,395.3 434.1,391.2 433.5,386.5 434.1,382.9 435.3,379.4 435.9,374.1 440.3,368.8 442.1,371.5 443.8,367.1 442.1,360.0Z"/>
<path class="c4" d="M389.4,372.4 394.1,371.8 401.2,372.4 410.0,373.5 410.6,374.7 410.0,375.3 408.8,384.1 408.2,393.5 408.2,398.2 407.6,401.8 405.3,403.5 401.8,402.9 399.4,401.2 397.6,398.2 395.3,390.0 392.9,382.9 391.2,377.1Z"/>
<path class="c2" d="M410.6,374.7 415.3,373.5 421.2,374.1 423.5,377.1 425.9,380.6 428.2,383.5 429.4,384.7 427.1,386.5 423.5,389.4 421.2,393.5 417.6,394.7 414.1,394.1 411.8,395.3 410.0,397.6 408.8,393.5 408.8,384.1Z"/>
<path class="c4" d="M399.4,401.2 401.8,402.9 405.3,403.5 407.6,401.8 408.2,398.2 410.0,397.6 411.8,395.3 414.1,394.1 417.6,394.7 421.2,393.5 423.5,389.4 427.1,386.5 429.4,384.7 431.8,385.3 433.5,386.5 434.1,391.2 434.1,394.1 435.9,397.1 435.3,401.2 431.8,405.3 428.2,408.8 423.5,412.9 417.6,415.3 411.8,416.5 407.1,417.6 403.5,417.6 402.4,414.7 401.8,410.0 400.6,405.3Z"/>
<path class="c3" d="M422.9,404.7 425.9,402.9 427.6,404.1 425.9,406.5 424.1,407.4Z"/>
<path class="c3" d="M431.8,395.3 434.1,394.7 435.1,397.1 432.9,398.8 431.8,397.6Z"/>
<path class="c3" d="M476.0,359.3 477.6,362.0 478.0,368.0 476.0,372.0 474.0,378.7 471.3,385.3 469.3,391.3 465.3,394.7 462.0,392.7 460.7,386.7 462.7,380.0 463.3,372.0 466.0,369.3 470.7,366.7 473.3,363.3Z"/>
<path class="c4" d="M432.7,368.7 437.3,365.3 441.3,364.0 443.3,371.3 441.3,373.3 438.0,374.7 437.3,370.0Z"/>
<path class="c3" d="M457.4,197.9 463.5,194.4 470.6,193.0 477.6,191.8 482.1,189.1 482.9,185.6 495.3,184.4 502.4,185.6 512.9,187.4 523.5,190.9 534.1,196.2 539.4,198.8 541.2,195.8 544.7,196.5 550.0,197.4 537.1,200.6 531.8,206.8 530.0,212.9 526.5,215.6 519.4,216.5 512.4,218.2 515.3,214.8 511.5,216.6 509.6,219.5 507.8,220.4 504.0,218.5 500.2,214.8 496.5,213.8 490.8,213.4 487.1,211.0 483.3,209.1 479.1,210.1 479.1,216.6 477.6,218.1 474.4,217.6 472.0,214.8 470.1,211.5 472.5,209.1 471.5,206.8 468.2,205.5 464.5,206.1 460.7,205.4 457.9,201.6 457.4,196.9Z"/>
<path class="c2" d="M479.1,210.1 483.3,209.1 487.1,211.0 490.8,213.4 496.5,213.8 500.2,214.8 504.0,218.5 507.8,220.4 509.6,223.2 507.8,226.1 509.6,229.8 505.9,228.9 502.1,226.1 498.4,223.2 494.6,221.4 490.8,218.5 487.1,217.6 483.3,218.5 480.5,219.5 479.5,216.6Z"/>
<path class="c2" d="M512.4,216.5 519.4,216.1 526.5,215.6 530.9,216.5 528.2,220.9 522.9,221.8 515.9,222.6 512.4,220.9 509.7,219.1Z"/>
<path class="c3" d="M508.8,221.8 515.9,222.6 519.4,223.5 522.9,227.1 519.4,230.6 514.1,229.7 510.6,227.9 507.9,225.3Z"/>
<path class="c1" d="M460.7,219.0 463.5,218.1 466.4,218.5 468.2,220.4 468.2,223.2 466.4,225.1 464.5,224.2 462.6,222.3 461.2,220.9Z"/>
<path class="c3" d="M540.0,199.7 545.3,196.2 557.6,194.4 559.4,192.6 564.7,194.4 570.0,196.2 578.8,197.1 587.6,197.9 596.5,197.1 600.0,199.7 601.8,203.2 607.1,205.0 603.5,206.8 601.8,205.3 596.5,208.8 592.9,212.4 589.4,215.9 582.4,217.6 571.8,217.6 562.9,215.9 554.1,212.4 547.1,207.9 540.0,205.3Z"/>
<path class="c4" d="M418.5,218.8 421.5,218.2 423.8,220.3 426.8,220.0 430.9,218.8 434.4,218.2 438.5,218.8 442.6,220.0 445.6,220.6 449.7,220.0 452.6,219.7 455.6,220.9 458.5,222.4 461.5,225.3 462.6,226.5 459.7,227.6 458.5,230.0 456.2,230.3 452.6,230.6 449.1,231.2 444.4,231.5 441.5,232.1 441.5,233.5 439.7,232.4 437.4,232.1 434.4,232.9 431.5,232.4 427.9,232.9 425.6,232.4 422.6,231.2 420.9,228.8 419.7,226.5 419.4,224.1 419.7,222.4 418.5,221.2Z"/>
<path class="c3" d="M446.2,214.4 450.3,215.3 455.0,216.5 459.7,218.8 460.9,220.0 456.2,220.6 452.6,219.4 450.3,218.2 447.9,216.5Z"/>
<path class="c4" d="M456.2,220.9 459.1,221.8 461.5,224.7 462.1,226.2 460.3,225.6 458.5,223.5Z"/>
<path class="c2" d="M433.2,235.9 437.4,234.4 436.2,236.2 433.8,237.1Z"/>
<path class="c4" d="M440.4,239.8 441.8,237.6 444.4,238.0 447.9,241.2 446.2,243.8 443.5,244.7 444.4,248.2 442.6,250.9 440.9,249.1Z"/>
<path class="c2" d="M440.9,249.1 442.6,250.9 444.4,248.2 443.5,244.7 446.2,243.8 450.6,243.8 457.6,248.2 462.9,250.9 470.0,253.5 472.2,255.7 476.0,260.4 478.8,264.2 480.2,267.0 482.6,267.9 486.4,268.4 488.2,267.0 488.2,270.8 487.3,274.5 484.5,276.4 478.8,278.3 474.1,280.2 470.4,283.0 467.6,282.6 461.1,283.5 460.1,283.5 458.2,280.7 455.4,276.9 452.6,272.2 448.8,266.6 446.0,260.0 443.5,255.3Z"/>
<path class="c1" d="M479.8,265.1 483.5,263.7 486.8,261.8 488.7,259.9 488.2,263.2 487.3,266.1 486.4,268.4 482.6,267.9 480.2,267.0Z"/>
<path class="c2" d="M634.3,228.7 636.3,227.2 639.0,228.0 641.7,230.7 643.7,234.0 643.0,236.0 639.7,237.7 637.7,236.7 636.3,233.3 635.0,231.3Z"/>
<path class="c4" d="M524.1,237.8 530.5,236.4 533.3,235.7 535.5,238.5 536.2,242.8 539.7,247.0 541.5,249.1 541.1,252.0 543.2,254.1 548.9,256.2 554.6,257.6 559.5,258.3 561.7,256.2 565.9,256.9 570.2,254.1 574.4,251.2 577.2,251.2 579.4,254.8 577.2,256.9 575.1,259.8 573.7,264.0 572.3,268.2 571.6,272.5 570.2,269.7 569.5,266.1 567.3,264.7 565.9,266.8 564.5,269.7 563.1,271.1 561.0,271.1 559.5,272.5 556.0,275.3 551.8,278.9 547.5,283.8 546.8,289.5 546.1,293.8 544.7,299.4 541.8,303.7 540.4,306.5 539.0,305.1 537.6,300.8 535.5,296.6 533.3,292.3 531.2,286.7 529.1,281.0 527.7,273.9 527.0,270.4 523.4,268.2 519.2,267.5 517.0,264.7 519.2,261.2 521.3,260.5 519.2,257.6 519.2,255.5 524.8,254.1 526.2,251.2 527.0,247.0 524.8,242.8Z"/>
<path class="c2" d="M541.5,249.1 546.1,249.8 551.8,252.7 557.4,254.1 560.2,254.8 559.5,258.3 554.6,257.6 548.9,256.2 543.2,254.1 541.1,252.0Z"/>
<path class="c4" d="M561.7,258.3 565.2,259.0 567.3,263.3 568.8,266.1 570.9,270.4 571.6,272.5 569.5,271.8 567.3,272.5 564.5,271.1 563.1,268.2 562.4,264.0Z"/>
<path class="c5" d="M546.1,303.0 548.2,302.2 550.3,305.1 551.0,309.3 549.6,311.5 547.5,311.5 546.1,307.9Z"/>
<path class="c3" d="M584.8,279.0 586.9,276.2 590.2,274.1 592.3,276.2 592.9,280.6 596.7,281.7 601.0,281.1 603.7,284.9 603.7,289.2 601.0,292.0 597.8,292.5 595.6,294.7 593.4,292.5 591.2,292.5 590.2,295.8 590.2,301.2 589.1,305.5 591.2,307.7 594.0,310.9 595.6,312.0 594.5,313.1 592.3,310.9 589.6,307.7 588.5,304.4 589.1,299.0 588.5,294.7 587.5,290.3 585.8,284.9Z"/>
<path class="c4" d="M592.3,269.2 595.0,270.8 597.8,273.0 600.5,275.2 598.0,273.3 600.0,275.3 599.3,277.7 600.7,278.7 602.7,280.7 604.7,283.3 607.3,286.7 608.7,288.7 608.3,290.7 606.7,291.3 605.3,290.0 603.3,288.7 603.7,289.2 603.7,284.9 601.0,281.1 596.7,281.7 592.9,280.6 592.3,276.2 590.2,274.1Z"/>
<path class="c1" d="M598.0,291.3 600.0,290.3 603.3,290.7 606.7,291.3 609.3,292.0 609.7,294.7 608.0,297.3 605.3,299.3 602.7,300.3 600.7,299.3 598.3,296.7Z"/>
<path class="c4" d="M594.0,310.9 596.1,311.5 598.8,313.1 601.0,316.3 602.1,320.7 603.2,325.0 601.0,325.0 598.8,320.7 596.7,317.4 595.0,314.2Z"/>
<path class="c4" d="M616.5,322.9 620.0,320.3 625.3,317.6 628.8,314.1 632.4,309.7 635.9,311.5 637.6,314.1 634.1,316.8 630.6,319.4 625.3,321.2 620.9,322.9 618.2,325.6Z"/>
<path class="c4" d="M687.9,334.4 694.1,337.9 699.4,343.2 702.9,348.5 709.1,354.7 704.7,354.7 699.4,352.1 694.1,351.2 687.1,351.7Z"/>
<path class="c4" d="M703.8,342.4 709.1,341.1 710.0,343.2 705.6,343.6Z"/>
<path class="c4" d="M637.3,279.5 640.0,279.3 641.3,281.7 641.1,284.9 640.5,288.2 643.2,290.3 645.4,292.5 644.3,293.6 641.6,292.5 640.0,290.9 638.9,288.2 637.6,285.5 636.8,282.8Z"/>
<path class="c4" d="M640.0,292.0 642.2,292.5 644.3,296.8 642.2,297.9 640.5,295.2Z"/>
<path class="c4" d="M644.3,296.8 647.6,295.8 649.8,297.4 650.8,300.1 648.7,301.2 646.5,300.1 644.9,299.0Z"/>
<path class="c4" d="M644.3,305.5 647.6,304.4 650.8,302.8 652.5,304.4 653.5,308.8 651.9,313.1 649.8,310.9 647.6,308.2 644.9,307.7Z"/>
<path class="c4" d="M632.4,304.4 635.7,300.1 637.3,299.0 636.8,301.2 634.0,305.0Z"/>
<path class="c2" d="M614.1,416.8 616.8,408.8 617.6,398.2 618.5,389.4 620.3,385.0 628.2,381.5 635.3,378.8 641.5,372.6 645.9,369.1 652.9,364.7 658.2,362.9 662.6,359.4 667.1,357.6 670.6,358.5 675.9,360.3 674.1,362.9 672.4,366.5 677.6,370.0 682.1,373.5 684.7,370.9 686.5,364.7 688.2,359.4 690.0,356.8 691.8,361.2 693.5,368.2 696.2,375.3 699.7,380.6 702.4,385.9 705.0,391.2 705.9,396.5 704.1,403.5 700.6,408.8 696.2,414.1 691.8,419.4 684.7,423.8 679.4,427.4 674.1,428.2 668.8,427.4 665.3,422.9 663.5,419.4 661.8,417.6 660.0,419.4 658.2,415.9 656.5,412.4 651.2,410.6 644.1,411.5 637.1,413.2 628.2,415.9 621.2,418.5 615.9,418.5Z"/>
<path class="c2" d="M667.5,436.0 672.0,433.6 676.5,434.5 674.4,439.0 669.0,441.4Z"/>
<path class="c2" d="M738.9,417.4 740.4,417.9 741.8,420.7 741.3,423.5 742.7,425.4 746.5,426.4 744.6,428.2 741.8,430.1 737.1,432.9 733.3,436.2 732.4,435.3 734.2,432.5 733.8,430.6 736.1,429.6 738.5,427.3 739.4,424.5 738.9,421.6Z"/>
<path class="c2" d="M728.6,433.4 730.0,433.9 730.9,435.8 727.6,437.6 722.9,440.5 718.2,443.3 713.5,446.1 708.8,448.9 705.5,448.0 706.5,446.1 711.6,443.3 717.3,440.5 722.0,437.6 725.8,435.3Z"/>
<path class="c4" d="M704.0,342.0 709.0,341.5 712.0,340.0 714.0,337.0 712.0,335.0 715.5,336.5 715.0,339.5 711.0,343.0 706.0,344.0Z"/>
<path class="c4" d="M719.0,341.0 721.0,342.5 722.0,345.0 720.5,344.5Z"/>
<path class="c4" d="M725.0,346.0 728.0,347.5 729.0,349.0 726.5,348.0Z"/>
<path class="c4" d="M731.0,349.0 734.0,351.0 735.0,354.0 732.5,352.5Z"/>
<path class="c4" d="M766.0,373.0 769.0,371.5 773.5,369.5 773.0,371.0 770.0,372.5 768.0,375.5 766.0,375.0Z"/>
<path class="c4" d="M9.0,275.0 10.5,274.6 12.2,276.5 11.0,278.3 9.3,278.0Z"/>
<path class="c4" d="M7.3,272.2 9.5,272.6 10.0,273.6 8.0,273.4Z"/>
<path class="c4" d="M5.0,271.0 6.5,271.2 6.3,271.9 5.0,271.7Z"/>
<path class="c4" d="M2.2,269.4 3.4,269.5 3.3,270.4 2.2,270.3Z"/>
<path class="c1" d="M378.0,130.2 382.2,129.8 387.9,128.8 394.5,128.4 401.5,129.3 400.1,130.7 393.5,131.2 390.7,133.1 387.9,135.9 384.1,134.5 380.4,132.1Z"/>
<path class="c1" d="M394.0,133.1 396.8,132.9 399.6,133.5 398.2,134.5 394.7,134.4Z"/>
<path class="c4" d="M742.9,366.1 744.4,366.5 745.1,370.4 743.6,370.0Z"/>
<path class="nd" d="M422.7,374.7 428.0,372.0 432.7,368.7 437.3,370.0 438.0,374.7 436.7,380.0 433.3,385.3 429.3,384.0 425.3,380.7 422.7,377.3Z"/>
<path class="bd" d="M334.1,256.1 343.5,256.1 343.5,259.8 337.9,261.7 336.0,268.3 325.6,272.1"/>
<path class="bd" d="M343.5,256.6 370.8,276.8"/>
<path class="bd" d="M348.2,261.7 349.2,273.9 350.1,287.1 344.5,288.1 337.9,287.1"/>
<path class="bd" d="M380.2,232.5 383.1,240.1 384.9,247.6 384.9,260.8 387.8,265.5 395.3,268.3"/>
<path class="bd" d="M370.8,276.8 380.2,271.1 387.8,266.4"/>
<path class="bd" d="M370.8,276.8 372.7,289.0 370.8,290.9"/>
<path class="bd" d="M395.3,268.3 397.2,287.1 396.2,294.6"/>
<path class="bd" d="M370.8,290.9 374.6,291.8 382.1,292.8 391.5,292.8 396.2,294.6"/>
<path class="bd" d="M395.3,268.3 408.5,275.8 418.8,270.2"/>
<path class="bd" d="M417.9,244.8 418.8,270.2 444.2,270.2"/>
<path class="bd" d="M418.8,270.2 416.0,281.5 417.9,294.6 415.1,299.4"/>
<path class="bd" d="M415.1,299.4 425.4,298.4 436.7,301.2 442.4,296.5"/>
<path class="bd" d="M384.0,236.3 387.8,242.9"/>
<path class="bd" d="M447.9,233.2 455.4,238.9 461.1,243.6"/>
<path class="bd" d="M460.1,230.4 463.9,237.9 467.6,245.5 474.2,252.1 478.9,256.8"/>
<path class="bd" d="M475.2,225.7 486.5,228.5 495.9,228.5 500.6,233.2"/>
<path class="bd" d="M500.6,233.2 501.5,243.6 499.6,250.2 501.5,259.6"/>
<path class="bd" d="M499.6,243.6 509.1,242.6 515.6,237.9 518.5,233.2"/>
<path class="bd" d="M495.9,228.5 505.3,229.5 512.8,228.5 518.5,231.4"/>
<path class="bd" d="M484.6,280.3 486.5,287.8"/>
<path class="bd" d="M579.1,254.4 581.9,255.4 583.8,258.2 582.9,263.8 585.7,266.6 587.6,269.5 590.4,270.4 592.3,269.9"/>
<path class="bd" d="M594.2,269.5 597.0,269.0 600.8,268.5 604.5,268.1"/>
<path class="bd" d="M621.7,224.7 627.0,221.3 630.3,218.7 633.7,216.7 636.3,214.7 637.7,212.0"/>
<path class="bd" d="M223.2,305.5 222.5,311.2 223.9,314.0"/>
<path class="bd" d="M231.0,312.6 230.3,316.8 231.7,321.8"/>
<path class="bd" d="M238.0,313.3 237.3,318.2 238.8,321.0"/>
</g>
<!--/MAP-->
<g id="legend">
<rect x="216" y="517" width="47" height="11.6" rx="0.8" fill="url(#hatch)" stroke="#bbb" stroke-width="0.6"/>
<rect x="283" y="517" width="58.5" height="11.6" fill="#f6eff7" stroke="#bbb" stroke-width="0.6"/>
<rect x="341.5" y="517" width="58.5" height="11.6" fill="#d0d1e6" stroke="#bbb" stroke-width="0.6"/>
<rect x="400" y="517" width="58.5" height="11.6" fill="#a6bddb" stroke="#bbb" stroke-width="0.6"/>
<rect x="458.5" y="517" width="58.5" height="11.6" fill="#67a9cf" stroke="#bbb" stroke-width="0.6"/>
<rect x="517" y="517" width="58.5" height="11.6" fill="#1c9099" stroke="#bbb" stroke-width="0.6"/>
<rect x="575.5" y="517" width="58.5" height="11.6" fill="#016c59" stroke="#bbb" stroke-width="0.6"/>
<line x1="239.5" y1="513.5" x2="239.5" y2="517" stroke="#a0a0a0" stroke-width="0.8"/><line x1="283" y1="513.5" x2="283" y2="517" stroke="#a0a0a0" stroke-width="0.8"/><line x1="341.5" y1="513.5" x2="341.5" y2="517" stroke="#a0a0a0" stroke-width="0.8"/><line x1="400" y1="513.5" x2="400" y2="517" stroke="#a0a0a0" stroke-width="0.8"/><line x1="458.5" y1="513.5" x2="458.5" y2="517" stroke="#a0a0a0" stroke-width="0.8"/><line x1="517" y1="513.5" x2="517" y2="517" stroke="#a0a0a0" stroke-width="0.8"/><line x1="575.5" y1="513.5" x2="575.5" y2="517" stroke="#a0a0a0" stroke-width="0.8"/><line x1="634" y1="513.5" x2="634" y2="517" stroke="#a0a0a0" stroke-width="0.8"/></g>
<g font-family="Liberation Sans, sans-serif" font-size="13" fill="#5b5b5b" text-anchor="middle">
<text x="239.5" y="510">No data</text>
<text x="283" y="510">0%</text>
<text x="341.5" y="510">2.5%</text>
<text x="400" y="510">5%</text>
<text x="458.5" y="510">10%</text>
<text x="517" y="510">25%</text>
<text x="575.5" y="510">50%</text>
<text x="634" y="510">100%</text>
</g>
</svg>
<div class="t ft" style="top:550px;transform:scaleX(1.022)"><b>Data source:</b> International Monetary Fund (IMF) Government Finance Statistics, via World Bank (2026)</div>
<div class="t ft" style="top:570px;transform:scaleX(1.041)">OurWorldinData.org/government-spending | CC BY</div>
</body></html>
